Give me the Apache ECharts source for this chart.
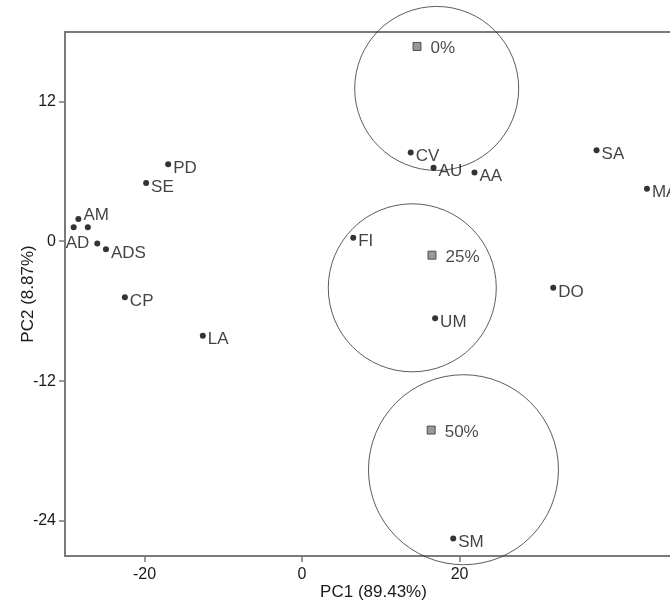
<!DOCTYPE html>
<html><head><meta charset="utf-8">
<script src="https://cdn.jsdelivr.net/npm/echarts@6/dist/echarts.min.js"></script>
<style>html,body{margin:0;padding:0;background:#fff}#c{width:670px;height:604px}</style>
</head><body><div id="c"></div>
<script>
// Sample scores
const sampleNames = ['PD','SE','AM','','','AD','ADS','CP','LA','FI','UM','CV','AU','AA','SA','MA','DO','SM'];
const samplePC1 = [-17.0,-19.8,-28.4,-29.0,-27.2,-26.0,-24.9,-22.5,-12.6,6.5,16.9,13.8,16.7,21.9,37.4,43.8,31.9,19.2];
const samplePC2 = [6.6,5.0,1.9,1.2,1.2,-0.2,-0.7,-4.8,-8.1,0.3,-6.6,7.6,6.3,5.9,7.8,4.5,-4.0,-25.5];
// Reference levels
const levelNames = ['0%','25%','50%'];
const levelPC1 = [14.6,16.5,16.4];
const levelPC2 = [16.7,-1.2,-16.2];
// Circle centres
const circlePC1 = [17.1,14.0,20.5];
const circlePC2 = [13.1,-4.0,-19.6];
// Tick labels
const xTicks = [-20,0,20];
const yTicks = [-24,-12,0,12];

const circleSizes = [164,168,190];
const FONT = 'Liberation Sans, Arial, sans-serif';

const sampleData = sampleNames.map((n,i)=>{
  const d = {name:n, value:[samplePC1[i], samplePC2[i]]};
  if (n==='AM') d.label = {offset:[0,-4]};
  if (n==='AD') d.label = {position:'left', distance:5, offset:[0,0]};
  return d;
});
const levelData = levelNames.map((n,i)=>({name:n, value:[levelPC1[i], levelPC2[i]]}));
const circleData = circlePC1.map((x,i)=>({value:[x, circlePC2[i]]}));

const axisColor = '#7a7a7a';
const chart = echarts.init(document.getElementById('c'), null, {renderer:'canvas'});
chart.setOption({
  animation:false,
  backgroundColor:'#fff',
  textStyle:{fontFamily:FONT},
  grid:{left:65, top:32, width:617, height:524, outerBoundsMode:'none', containLabel:false,
        show:true, borderColor:axisColor, borderWidth:2, backgroundColor:'transparent'},
  xAxis:{
    type:'value', min:-30.1, max:48.25,
    name:'PC1 (89.43%)', nameLocation:'middle', nameGap:28, nameMoveOverlap:false,
    nameTextStyle:{fontSize:17, color:'#1a1a1a', fontFamily:FONT},
    axisLine:{show:true, onZero:false, lineStyle:{color:axisColor, width:2}},
    axisTick:{show:true, length:6, customValues:xTicks, lineStyle:{color:axisColor, width:1.5}},
    axisLabel:{customValues:xTicks, fontSize:16, color:'#1a1a1a', margin:11, fontFamily:FONT},
    splitLine:{show:false}
  },
  yAxis:{
    type:'value', min:-27, max:17.94,
    name:'PC2 (8.87%)', nameLocation:'middle', nameGap:28, nameMoveOverlap:false,
    nameTextStyle:{fontSize:17, color:'#1a1a1a', fontFamily:FONT},
    axisLine:{show:true, onZero:false, lineStyle:{color:axisColor, width:2}},
    axisTick:{show:true, length:6, customValues:yTicks, lineStyle:{color:axisColor, width:1.5}},
    axisLabel:{customValues:yTicks, fontSize:16, color:'#1a1a1a', margin:9, fontFamily:FONT},
    splitLine:{show:false}
  },
  series:[
    {
      type:'scatter', data:circleData, clip:false, silent:true, z:1,
      symbol:'circle',
      symbolSize:(v,p)=>circleSizes[p.dataIndex],
      itemStyle:{color:'rgba(0,0,0,0)', borderColor:'#333', borderWidth:1}
    },
    {
      type:'scatter', data:sampleData, z:3, symbol:'circle', symbolSize:6,
      itemStyle:{color:'#000'},
      label:{show:true, formatter:'{b}', position:'right', distance:2, offset:[0,4], fontSize:17, color:'#111', fontFamily:FONT}
    },
    {
      type:'scatter', data:levelData, z:3, symbol:'rect', symbolSize:8,
      itemStyle:{color:'#808080', borderColor:'#333', borderWidth:1},
      label:{show:true, formatter:'{b}', position:'right', distance:9, offset:[0,2], fontSize:17, color:'#1a1a1a', fontFamily:FONT}
    }
  ]
});
</script></body></html>
